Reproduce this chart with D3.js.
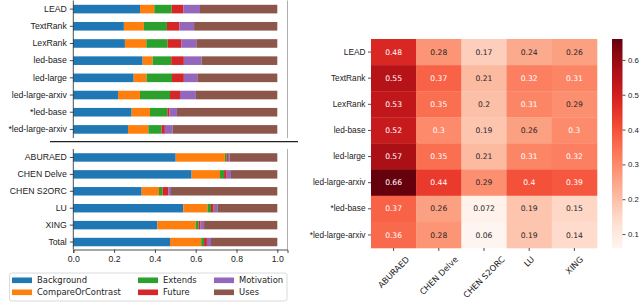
<!DOCTYPE html>
<html>
<head>
<meta charset="utf-8">
<script src="https://cdn.jsdelivr.net/npm/d3@7"></script>
<style>
  body { margin: 0; background: #fff; }
  svg { display: block; font-family: "DejaVu Sans", sans-serif; }
  text { fill: #222; }
</style>
</head>
<body>
<svg id="chart" width="640" height="302"></svg>
<script>
// citation intent categories
var intents = ["Background", "CompareOrContrast", "Extends", "Future", "Motivation", "Uses"];
var intentColors = ["#1f77b4", "#ff7f0e", "#2ca02c", "#d62728", "#9467bd", "#8c564b"];

// system outputs (top panel), shares per intent
var systems = ["LEAD", "TextRank", "LexRank", "led-base", "led-large", "led-large-arxiv", "*led-base", "*led-large-arxiv"];
var systemShares = [
    [0.327, 0.070, 0.085, 0.057, 0.082, 0.379],
    [0.248, 0.098, 0.113, 0.061, 0.072, 0.408],
    [0.253, 0.105, 0.104, 0.067, 0.074, 0.397],
    [0.340, 0.049, 0.091, 0.062, 0.087, 0.371],
    [0.296, 0.063, 0.125, 0.058, 0.066, 0.392],
    [0.219, 0.108, 0.147, 0.049, 0.078, 0.399],
    [0.286, 0.090, 0.085, 0.011, 0.036, 0.492],
    [0.268, 0.100, 0.065, 0.016, 0.038, 0.513]
];

// reference datasets (bottom panel)
var datasets = ["ABURAED", "CHEN Delve", "CHEN S2ORC", "LU", "XING", "Total"];
var datasetShares = [
    [0.502, 0.241, 0.009, 0.006, 0.008, 0.234],
    [0.580, 0.139, 0.020, 0.013, 0.021, 0.227],
    [0.335, 0.085, 0.018, 0.028, 0.013, 0.521],
    [0.539, 0.119, 0.017, 0.013, 0.018, 0.294],
    [0.412, 0.188, 0.014, 0.010, 0.017, 0.359],
    [0.474, 0.153, 0.014, 0.014, 0.020, 0.325]
];
var xTicks = [0, 0.2, 0.4, 0.6, 0.8, 1.0];

// heatmap: rows = systems, columns = datasets
var heatCols = ["ABURAED", "CHEN Delve", "CHEN S2ORC", "LU", "XING"];
var heatValues = [
    [0.48, 0.28, 0.17, 0.24, 0.26],
    [0.55, 0.37, 0.21, 0.32, 0.31],
    [0.53, 0.35, 0.2, 0.31, 0.29],
    [0.52, 0.3, 0.19, 0.26, 0.3],
    [0.57, 0.35, 0.21, 0.31, 0.32],
    [0.66, 0.44, 0.29, 0.4, 0.39],
    [0.37, 0.26, 0.072, 0.19, 0.15],
    [0.36, 0.28, 0.06, 0.19, 0.14]
];
var cbTicks = [0.1, 0.2, 0.3, 0.4, 0.5, 0.6];

var svg = d3.select("#chart");
var leftFont = "8.7px", heatFont = "8.3px", legendFont = "8.4px";

// ---------- stacked bar panels ----------
var x = d3.scaleLinear().domain([0, 1.05]).range([73.3, 287.5]);

function stackedPanel(cats, shares, y0, y1, withAxis) {
    var g = svg.append("g");
    var y = d3.scaleBand().domain(cats).range([y0, y1]).paddingInner(0.5).paddingOuter(0.25);

    cats.forEach(function(c, i) {
        var acc = 0;
        g.selectAll(null).data(shares[i]).enter().append("rect")
            .attr("x", function(d) { var v = x(acc); acc += d; return v; })
            .attr("y", y(c))
            .attr("width", function(d) { return x(d) - x(0); })
            .attr("height", y.bandwidth())
            .attr("fill", function(d, j) { return intentColors[j]; });
    });

    // left axis
    var ax = g.append("g").attr("transform", "translate(" + x(0) + ",0)")
        .call(d3.axisLeft(y).tickSize(3.5).tickPadding(3));
    ax.select(".domain").remove();
    ax.selectAll("text").style("font-size", leftFont).attr("fill", "#222");
    ax.selectAll("line").attr("stroke", "#222").attr("stroke-width", 0.8);

    // spines
    var bottom = withAxis ? y1 - 1 : y1;
    g.append("line").attr("x1", x(0)).attr("x2", x(0)).attr("y1", y0).attr("y2", bottom)
        .attr("stroke", "#222").attr("stroke-width", 0.8);
    g.append("line").attr("x1", x(1.05)).attr("x2", x(1.05)).attr("y1", y0).attr("y2", bottom)
        .attr("stroke", "#999").attr("stroke-width", 0.8);

    if (withAxis) {
        var bx = g.append("g").attr("transform", "translate(0," + bottom + ")")
            .call(d3.axisBottom(x).tickValues(xTicks).tickFormat(d3.format(".1f")).tickSize(3.5).tickPadding(3));
        bx.select(".domain").attr("stroke", "#222").attr("stroke-width", 0.8);
        bx.selectAll("text").style("font-size", leftFont).attr("fill", "#222");
        bx.selectAll("line").attr("stroke", "#222").attr("stroke-width", 0.8);
    }
}

stackedPanel(systems, systemShares, 0.5, 138, false);
stackedPanel(datasets, datasetShares, 149, 250.5, true);

// separator between the two panels
svg.append("line").attr("x1", 50).attr("x2", 298).attr("y1", 141.7).attr("y2", 141.7)
    .attr("stroke", "#222").attr("stroke-width", 1.2);

// legend
var legend = svg.append("g");
legend.append("rect").attr("x", 9.5).attr("y", 273).attr("width", 277.5).attr("height", 28)
    .attr("rx", 2).attr("fill", "#fff").attr("stroke", "#d0d0d0").attr("stroke-width", 0.8);
var legCols = [12, 138, 214];
var legRows = [280.3, 292.3];
intents.forEach(function(name, i) {
    var cx = legCols[Math.floor(i / 2)], cy = legRows[i % 2];
    legend.append("rect").attr("x", cx).attr("y", cy - 2.8).attr("width", 20).attr("height", 5.6)
        .attr("fill", intentColors[i]);
    legend.append("text").attr("x", cx + 25).attr("y", cy).attr("dy", "0.35em")
        .style("font-size", legendFont).text(name);
});

// ---------- heatmap ----------
var hx = d3.scaleBand().domain(heatCols).range([371, 597]);
var hy = d3.scaleBand().domain(systems).range([39, 248]);
var vmin = 0.06, vmax = 0.66;
var color = d3.scaleSequential(d3.interpolateReds).domain([vmin, vmax]);

function luminance(c) {
    var rgb = d3.rgb(c);
    var ch = [rgb.r, rgb.g, rgb.b].map(function(v) {
        v = v / 255;
        return v <= 0.03928 ? v / 12.92 : Math.pow((v + 0.055) / 1.055, 2.4);
    });
    return 0.2126 * ch[0] + 0.7152 * ch[1] + 0.0722 * ch[2];
}

var hm = svg.append("g");
systems.forEach(function(r, i) {
    heatCols.forEach(function(c, j) {
        var v = heatValues[i][j];
        var fillC = color(v);
        hm.append("rect").attr("x", hx(c)).attr("y", hy(r))
            .attr("width", hx.bandwidth() + 0.3).attr("height", hy.bandwidth() + 0.3)
            .attr("fill", fillC);
        hm.append("text").attr("x", hx(c) + hx.bandwidth() / 2).attr("y", hy(r) + hy.bandwidth() / 2)
            .attr("dy", "0.35em").attr("text-anchor", "middle")
            .style("font-size", "7.6px")
            .style("fill", luminance(fillC) > 0.408 ? "#262626" : "#fff")
            .text(d3.format("")(v));
    });
});

var hyAx = hm.append("g").attr("transform", "translate(371,0)")
    .call(d3.axisLeft(hy).tickSize(3).tickPadding(2.5));
hyAx.select(".domain").remove();
hyAx.selectAll("text").style("font-size", heatFont).attr("fill", "#222");
hyAx.selectAll("line").attr("stroke", "#222").attr("stroke-width", 0.8);

var hxAx = hm.append("g").attr("transform", "translate(0,248)")
    .call(d3.axisBottom(hx).tickSize(3).tickFormat(""));
hxAx.select(".domain").remove();
hxAx.selectAll("line").attr("stroke", "#222").attr("stroke-width", 0.8);

// rotated column labels, bounding box centred under the tick
heatCols.forEach(function(c) {
    var t = hm.append("text").attr("text-anchor", "middle").attr("dy", "0.35em")
        .style("font-size", heatFont).text(c);
    var len = t.node().getComputedTextLength();
    var h = (len + 8.3) * Math.SQRT1_2;
    var cx = hx(c) + hx.bandwidth() / 2, cy = 255 + h / 2;
    t.attr("transform", "translate(" + cx + "," + cy + ") rotate(-45)");
});

// colorbar
var cb = svg.append("g");
var cbY = d3.scaleLinear().domain([vmin, vmax]).range([248, 39]);
var defs = svg.append("defs");
var grad = defs.append("linearGradient").attr("id", "cbgrad")
    .attr("x1", 0).attr("y1", 1).attr("x2", 0).attr("y2", 0);
d3.range(0, 1.0001, 0.05).forEach(function(t) {
    grad.append("stop").attr("offset", t).attr("stop-color", d3.interpolateReds(t));
});
cb.append("rect").attr("x", 612).attr("y", 39).attr("width", 10.5).attr("height", 209)
    .attr("fill", "url(#cbgrad)");
var cbAx = cb.append("g").attr("transform", "translate(622.5,0)")
    .call(d3.axisRight(cbY).tickValues(cbTicks).tickFormat(d3.format(".1f")).tickSize(3).tickPadding(2.5));
cbAx.select(".domain").remove();
cbAx.selectAll("text").style("font-size", "7.8px").attr("fill", "#222");
cbAx.selectAll("line").attr("stroke", "#222").attr("stroke-width", 0.8);
</script>
</body>
</html>
